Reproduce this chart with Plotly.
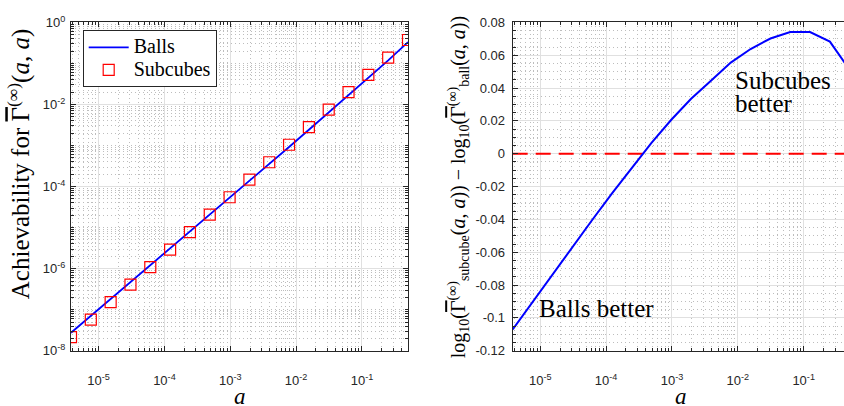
import math
import plotly.graph_objects as go

# ---------------- data ----------------
a_vals = [3.8147e-06, 7.6294e-06, 1.5259e-05, 3.0518e-05, 6.1035e-05, 1.2207e-04,
          2.4414e-04, 4.8828e-04, 9.7656e-04, 1.9531e-03, 3.9063e-03, 7.8125e-03,
          1.5625e-02, 3.125e-02, 6.25e-02, 0.125, 0.25, 0.5]
balls = [2.754e-08, 7.080e-08, 1.820e-07, 4.656e-07, 1.197e-06, 3.076e-06,
         7.907e-06, 2.032e-05, 5.248e-05, 1.361e-04, 3.532e-04, 9.204e-04,
         2.421e-03, 6.397e-03, 1.690e-02, 4.467e-02, 0.1189, 0.3311]
subcubes = [2.153e-08, 5.754e-08, 1.536e-07, 4.083e-07, 1.090e-06, 2.909e-06,
            7.754e-06, 2.063e-05, 5.504e-05, 1.471e-04, 3.913e-04, 1.046e-03,
            2.804e-03, 7.518e-03, 2.005e-02, 5.298e-02, 0.1391, 0.3724]
log_diff = [-0.107, -0.0903, -0.0736, -0.057, -0.0405, -0.0243, -0.0085, 0.0066,
            0.0207, 0.0335, 0.0445, 0.0555, 0.0638, 0.0702, 0.0741, 0.0741,
            0.0683, 0.051]
zero_line = [0, 0]

x_major = [1e-5, 1e-4, 1e-3, 1e-2, 1e-1]
x_major_text = ["10<sup>-5</sup>", "10<sup>-4</sup>", "10<sup>-3</sup>",
                "10<sup>-2</sup>", "10<sup>-1</sup>"]
y1_major = [1e-8, 1e-6, 1e-4, 1e-2, 1]
y1_major_text = ["10<sup>-8</sup>", "10<sup>-6</sup>", "10<sup>-4</sup>",
                 "10<sup>-2</sup>", "10<sup>0</sup>"]
y2_major = [-0.12, -0.1, -0.08, -0.06, -0.04, -0.02, 0, 0.02, 0.04, 0.06, 0.08]
y2_major_text = ["-0.12", "-0.1", "-0.08", "-0.06", "-0.04", "-0.02", "0",
                 "0.02", "0.04", "0.06", "0.08"]

# ---------------- layout geometry ----------------
W, H = 844, 406
L1, R1 = 71, 408
L2, R2 = 512.7, 844
TOP, BOT = 14, 356.7

xlo = math.log10(a_vals[0])
xhi = math.log10(a_vals[-1])
span_px = (xhi - xlo) / (R1 - L1)
x2hi = xlo + span_px * (R2 - L2)

x_minor = [d * 10.0 ** n for n in range(-6, 0) for d in range(2, 10)
           if a_vals[0] <= d * 10.0 ** n <= a_vals[-1]]
y1_minor = [d * 10.0 ** n for n in range(-8, 0) for d in range(1, 10)
            if not (d == 1 and n % 2 == 0)]

AX = "#262626"
GRID = "#e0e0e0"
MGRID = "#bdbdbd"
MDASH = "1px,3px"
TICKFONT = dict(family="Liberation Sans, Arial, sans-serif", size=13, color=AX)
SERIF = "Liberation Serif, Times New Roman, serif"
LEG = '<span style="font-size:20px">%s</span>'

fig = go.Figure()

fig.add_trace(go.Scatter(x=a_vals, y=balls, mode="lines", name=LEG % "Balls",
                         line=dict(color="#0000ff", width=1.8),
                         xaxis="x", yaxis="y"))
fig.add_trace(go.Scatter(x=a_vals, y=subcubes, mode="markers", name=LEG % "Subcubes",
                         marker=dict(symbol="square-open", size=11, color="#ff0000",
                                     line=dict(color="#ff0000", width=1.2)),
                         xaxis="x", yaxis="y"))
fig.add_trace(go.Scatter(x=[a_vals[0], a_vals[-1]], y=zero_line, mode="lines",
                         line=dict(color="#ff0000", width=2, dash="15px,8px"),
                         showlegend=False, xaxis="x2", yaxis="y2"))
fig.add_trace(go.Scatter(x=a_vals, y=log_diff, mode="lines",
                         line=dict(color="#0000ff", width=2),
                         showlegend=False, xaxis="x2", yaxis="y2"))

common_axis = dict(showline=True, linecolor=AX, linewidth=1, ticks="inside",
                   ticklen=5, tickcolor=AX, tickwidth=1, tickfont=TICKFONT,
                   showgrid=True, gridcolor=GRID, gridwidth=1, zeroline=False)

def log_minor(vals):
    return dict(tickmode="array", tickvals=vals, ticks="inside", ticklen=3,
                tickcolor=AX, tickwidth=1, showgrid=True, gridcolor=MGRID,
                griddash=MDASH, gridwidth=1)

fig.update_layout(
    width=W, height=H, autosize=False,
    margin=dict(l=0, r=0, t=0, b=0),
    paper_bgcolor="white", plot_bgcolor="white",
    showlegend=True,
    legend=dict(x=82.7 / W, y=1 - 22 / H, xanchor="left", yanchor="top",
                bgcolor="white", bordercolor=AX, borderwidth=1,
                font=dict(family=SERIF, size=15, color="black"),
                itemwidth=40, tracegroupgap=0, traceorder="normal"),
    xaxis=dict(type="log", domain=[L1 / W, R1 / W], range=[xlo, xhi],
               anchor="y", mirror="ticks", tickmode="array", tickvals=x_major,
               ticktext=x_major_text, minor=log_minor(x_minor),
               ticklabelposition="outside", ticklabelstandoff=18, **common_axis),
    yaxis=dict(type="log", domain=[1 - BOT / H, 1 - TOP / H], range=[-8, 0],
               anchor="x", mirror="ticks", tickmode="array", tickvals=y1_major,
               ticktext=y1_major_text, minor=log_minor(y1_minor),
               ticklabelstandoff=2, **common_axis),
    xaxis2=dict(type="log", domain=[L2 / W, R2 / W], range=[xlo, x2hi],
                anchor="y2", mirror="ticks", tickmode="array", tickvals=x_major,
                ticktext=x_major_text, minor=log_minor(x_minor),
                ticklabelposition="outside", ticklabelstandoff=18, **common_axis),
    yaxis2=dict(domain=[1 - BOT / H, 1 - TOP / H], range=[-0.12, 0.08],
                anchor="x2", mirror=False, tickmode="array", tickvals=y2_major,
                ticktext=y2_major_text,
                minor=dict(tickmode="linear", tick0=0, dtick=0.005, ticks="inside",
                           ticklen=3, tickcolor=AX, showgrid=True, gridcolor=MGRID,
                           griddash=MDASH, gridwidth=1),
                ticklabelstandoff=4, **common_axis),
)

ann_font = dict(family=SERIF, size=25, color="black")
lab_font = dict(family=SERIF, size=25, color="black")
G = '<span style="text-decoration:overline">\u0393</span>'
fig.add_annotation(xref="paper", yref="paper", x=19 / W, y=1 - 162 / H,
                   text="Achievability for " + G + "<sup>(\u221e)</sup>(<i>a</i>, <i>a</i>)",
                   textangle=-90, showarrow=False, xanchor="center", yanchor="middle",
                   font=lab_font)
fig.add_annotation(xref="paper", yref="paper", x=459 / W, y=1 - 186 / H,
                   text="log<sub>10</sub>(" + G + "<sup>(\u221e)</sup><sub>subcube</sub>(<i>a</i>, <i>a</i>))"
                        " \u2212 log<sub>10</sub>(" + G + "<sup>(\u221e)</sup><sub>ball</sub>(<i>a</i>, <i>a</i>))",
                   textangle=-90, showarrow=False, xanchor="center", yanchor="middle",
                   font=dict(family=SERIF, size=20, color="black"))
for xc in (240, 681):
    fig.add_annotation(xref="paper", yref="paper", x=xc / W, y=1 - 404 / H,
                       text="<i>a</i>", showarrow=False, xanchor="center",
                       yanchor="middle",
                       font=dict(family=SERIF, size=23, color="black"))
fig.add_annotation(xref="paper", yref="paper", x=733 / W, y=1 - 74 / H,
                   text="Subcubes", showarrow=False, xanchor="left", yanchor="middle",
                   height=24, valign="middle", font=ann_font)
fig.add_annotation(xref="paper", yref="paper", x=733 / W, y=1 - 98 / H,
                   text="better", showarrow=False, xanchor="left", yanchor="middle",
                   height=24, valign="middle", font=ann_font)
fig.add_annotation(xref="paper", yref="paper", x=537 / W, y=1 - 312.5 / H,
                   text="Balls better", showarrow=False, xanchor="left", yanchor="middle",
                   font=ann_font)

fig.write_html("out.html")
